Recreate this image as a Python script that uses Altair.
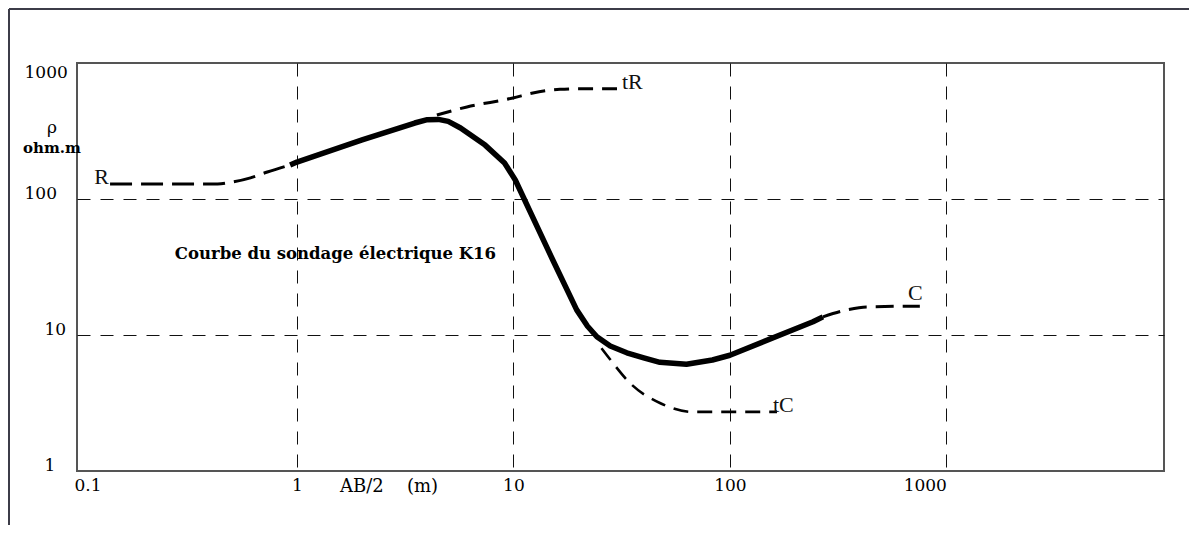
import altair as alt
import pandas as pd

# ---- data (AB/2 in m, apparent resistivity in ohm.m) ----
r_x = [0.137, 0.30, 0.43, 0.50, 0.61, 0.73, 0.93]
r_y = [129, 129, 129, 133, 143, 158, 178]

main_x = [0.93, 1.0, 2.0, 3.5, 4.0, 4.5, 5.0, 5.7, 7.4, 9.1, 10.2, 15.2, 19.6, 22, 24.3, 28, 33.4, 40, 47.5, 63, 83, 100, 242, 269]
main_y = [178, 187, 272, 362, 383, 385, 372, 333, 249, 184, 138, 35.6, 15.3, 11.6, 9.7, 8.3, 7.4, 6.8, 6.3, 6.1, 6.55, 7.1, 12.5, 13.6]

tr_x = [4.43, 6.1, 9.95, 12.3, 16.4, 21.4, 30.1]
tr_y = [415, 475, 553, 602, 640, 648, 648]

tc_x = [25.5, 28, 34.5, 47.5, 67.5, 100, 165]
tc_y = [8.0, 6.6, 4.44, 3.16, 2.72, 2.72, 2.72]

c_x = [269, 347, 429, 754]
c_y = [13.6, 15.3, 16.1, 16.3]

curve_labels = ["tR", "C", "tC"]
curve_label_x = [31.7, 664, 158]
curve_label_y = [644, 18.1, 2.72]
r_label_x = [0.137]
r_label_y = [129]

x_ticks = [0.1, 1, 10, 100, 1000]
y_ticks = [1, 10, 100, 1000]

title_text = ["Courbe du sondage électrique  K16"]
title_x = [0.273]
title_y = [36.2]

W, H = 1087, 408

xscale = alt.Scale(type="log", domain=[0.0964, 10120], nice=False)
yscale = alt.Scale(type="log", domain=[1, 1000], nice=False)

xaxis = alt.Axis(
    values=x_ticks, title=None, ticks=False, domain=False, grid=True,
    gridDash=[13, 10], gridColor="#111", gridWidth=1,
    gridOpacity={"condition": {"test": "datum.value < 0.5", "value": 0}, "value": 1},
    labelExpr="'' + datum.value", labelFont="DejaVu Serif", labelFontSize=17,
    labelColor="#000", labelBaseline="middle", labelPadding=14,
    labelAlign={"condition": {"test": "datum.value >= 1000", "value": "right"}, "value": "center"},
    labelOffset={"condition": {"test": "datum.value < 0.5", "value": 7}, "value": 0},
    labelFlush=False, labelOverlap=False,
)
yaxis = alt.Axis(
    values=y_ticks, title=None, ticks=False, domain=False, grid=True,
    gridDash=[13, 10], gridColor="#111", gridWidth=1,
    gridOpacity={"condition": {"test": "datum.value < 5 || datum.value > 500", "value": 0}, "value": 1},
    labelExpr="'' + datum.value", labelFont="DejaVu Serif", labelFontSize=17,
    labelColor="#000", labelBaseline="middle", labelAlign="left",
    labelPadding={"condition": {"test": "datum.value >= 100", "value": 53}, "value": 33},
    labelOffset={"condition": {"test": "datum.value >= 1000", "value": 9}, "value": -6},
    labelFlush=False, labelOverlap=False,
)

X = alt.X("x:Q", scale=xscale, axis=xaxis)
Y = alt.Y("y:Q", scale=yscale, axis=yaxis)


def line(xs, ys, width, dash=None, interp="monotone"):
    df = pd.DataFrame({"x": xs, "y": ys, "i": range(len(xs))})
    kw = dict(color="black", strokeWidth=width, interpolate=interp, strokeCap="butt",
              strokeJoin="round", clip=False)
    if dash is not None:
        kw["strokeDash"] = dash
    return alt.Chart(df).mark_line(**kw).encode(x=X, y=Y, order="i:Q")


layers = [
    line(r_x, r_y, 3, [22, 9]),
    line(tr_x, tr_y, 3, [15, 9]),
    line(tc_x, tc_y, 2.6, [15, 9]),
    line(c_x, c_y, 3, [18, 9]),
    line(main_x, main_y, 5.5, interp="linear"),
]

lab_df = pd.DataFrame({"x": curve_label_x, "y": curve_label_y, "t": curve_labels})
layers.append(alt.Chart(lab_df).mark_text(
    font="Liberation Serif", fontSize=22, align="left", baseline="alphabetic", color="#111"
).encode(x=X, y=Y, text="t:N"))

r_df = pd.DataFrame({"x": r_label_x, "y": r_label_y, "t": ["R"]})
layers.append(alt.Chart(r_df).mark_text(
    font="Liberation Serif", fontSize=22, align="right", baseline="alphabetic", dx=-1, color="#111"
).encode(x=X, y=Y, text="t:N"))

t_df = pd.DataFrame({"x": title_x, "y": title_y, "t": title_text})
layers.append(alt.Chart(t_df).mark_text(
    font="DejaVu Serif", fontSize=16.5, fontWeight="bold", align="left", baseline="alphabetic", color="#000"
).encode(x=X, y=Y, text="t:N"))

one = alt.Data(values=[{}])
# axis titles and outer frame (decoration)
layers.append(alt.Chart(one).mark_text(
    font="DejaVu Serif", fontSize=17, align="center", baseline="alphabetic", color="#000"
).encode(x=alt.value(-25), y=alt.value(70), text=alt.value("ρ")))
layers.append(alt.Chart(one).mark_text(
    font="DejaVu Serif", fontSize=15, fontWeight="bold", align="center", baseline="alphabetic", color="#000"
).encode(x=alt.value(-25), y=alt.value(90), text=alt.value("ohm.m")))
layers.append(alt.Chart(one).mark_text(
    font="DejaVu Serif", fontSize=18, align="left", baseline="alphabetic", color="#000"
).encode(x=alt.value(263), y=alt.value(429), text=alt.value("AB/2")))
layers.append(alt.Chart(one).mark_text(
    font="DejaVu Serif", fontSize=18, align="left", baseline="alphabetic", color="#000"
).encode(x=alt.value(330), y=alt.value(429), text=alt.value("(m)")))
layers.append(alt.Chart(one).mark_rule(color="#3c3c48", strokeWidth=2).encode(
    x=alt.value(-68), x2=alt.value(W + 25), y=alt.value(-54)))
layers.append(alt.Chart(one).mark_rule(color="#3c3c48", strokeWidth=2).encode(
    x=alt.value(-68), y=alt.value(-54), y2=alt.value(H + 54)))

chart = alt.layer(*layers).properties(
    width=W, height=H,
    autosize=alt.AutoSizeParams(type="none"),
    padding={"left": 69, "top": 55, "right": 25, "bottom": 54},
).configure(background="white").configure_view(stroke="#555555", strokeWidth=2)

chart.save("out.html", embed_options={"renderer": "svg", "actions": False})
